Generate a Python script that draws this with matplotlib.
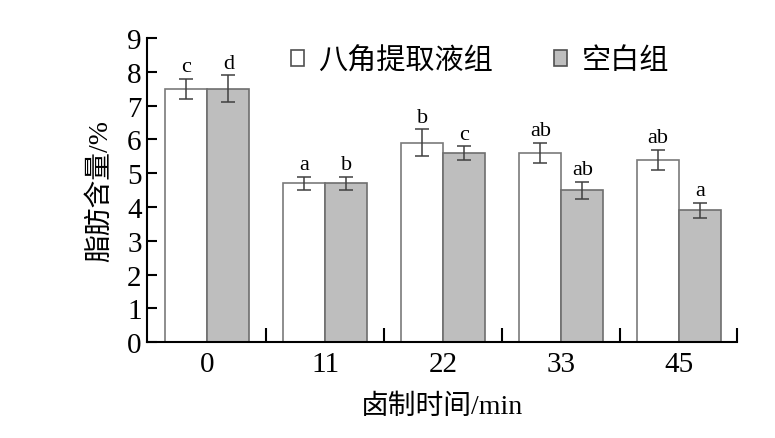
import numpy as np
import matplotlib
matplotlib.use('Agg')
import matplotlib.pyplot as plt
from matplotlib.patches import Patch

plt.rcParams['font.family'] = ['Liberation Serif', 'Noto Sans CJK SC']

# data
times = ['0', '11', '22', '33', '45']
anise = [7.5, 4.7, 5.9, 5.6, 5.4]
anise_err = [0.3, 0.2, 0.4, 0.3, 0.3]
blank = [7.5, 4.7, 5.6, 4.5, 3.9]
blank_err = [0.4, 0.2, 0.2, 0.25, 0.23]
anise_sig = ['c', 'a', 'b', 'ab', 'ab']
blank_sig = ['d', 'b', 'c', 'ab', 'a']

fig = plt.figure(figsize=(7.75, 4.39), dpi=100)
ax = fig.add_axes([0.190, 0.218, 0.761, 0.693])

x = np.arange(len(times))
w = 0.356
err_kw = dict(ecolor='#404040', elinewidth=1.1, capsize=5, capthick=1.1)

ax.bar(x - w / 2, anise, w, yerr=anise_err, color='white', edgecolor='#7a7a7a',
       linewidth=1.2, error_kw=err_kw, label='八角提取液组')
ax.bar(x + w / 2, blank, w, yerr=blank_err, color='#bebebe', edgecolor='#6e6e6e',
       linewidth=1.2, error_kw=err_kw, label='空白组')

for i in range(len(times)):
    ax.text(x[i] - w / 2, anise[i] + anise_err[i] + 0.08, anise_sig[i],
            ha='center', va='bottom', fontsize=16)
    ax.text(x[i] + w / 2, blank[i] + blank_err[i] + 0.08, blank_sig[i],
            ha='center', va='bottom', fontsize=16)

ax.set_xlim(-0.51, 4.49)
ax.set_ylim(0, 9)
ax.set_yticks(range(10))
ax.set_xticks(x)
ax.set_xticklabels(times)
ax.set_xticks([0.5, 1.5, 2.5, 3.5, 4.49], minor=True)
ax.tick_params(axis='x', which='major', length=0, labelsize=21, pad=6)
ax.tick_params(axis='x', which='minor', direction='in', length=10, width=1.5)
ax.tick_params(axis='y', direction='in', length=7, width=1.5, labelsize=21, pad=4)

for s in ['top', 'right']:
    ax.spines[s].set_visible(False)
for s in ['left', 'bottom']:
    ax.spines[s].set_linewidth(1.5)

ax.set_xlabel('卤制时间/min', fontsize=20, labelpad=12)
ax.set_ylabel('脂肪含量/%', fontsize=20, labelpad=10)

handles = [Patch(facecolor='white', edgecolor='#505050', linewidth=1.2),
           Patch(facecolor='#bebebe', edgecolor='#505050', linewidth=1.2)]
ax.legend(handles, ['八角提取液组', '空白组'], loc='center left', bbox_to_anchor=(0.243, 0.925),
          ncol=2, frameon=False, fontsize=21, handlelength=0.45, handleheight=0.45,
          handletextpad=0.5, columnspacing=2.1, borderpad=0, borderaxespad=0)

plt.savefig('out.png', dpi=100)
